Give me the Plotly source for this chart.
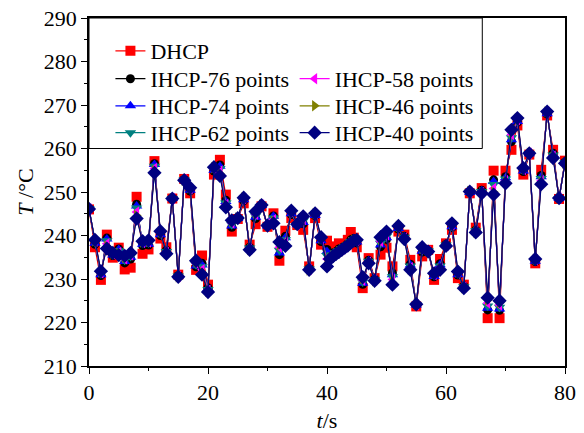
import plotly.graph_objects as go

t = [0, 1, 2, 3, 4, 5, 6, 7, 8, 9, 10, 11, 12, 13, 14, 15, 16, 17, 18, 19, 20,
     21, 22, 23, 24, 25, 26, 27, 28, 29, 30, 31, 32, 33, 34, 35, 36, 37, 38, 39, 40,
     40.5, 41, 41.5, 42, 42.5, 43, 43.5, 44, 44.5, 45,
     46, 47, 48, 49, 50, 51, 52, 53, 54, 55, 56, 57, 58, 59, 60,
     61, 62, 63, 64, 65, 66, 67, 68, 69, 70, 71, 72, 73, 74, 75, 76, 77, 78, 79, 80]

dhcp = [246.0, 237.3, 229.8, 240.2, 234.9, 237.2, 232.2, 232.6, 248.9, 235.8, 236.8,
        257.1, 239.3, 237.3, 248.5, 231.0, 253.0, 249.7, 232.1, 235.4, 228.7,
        254.0, 257.4, 249.4, 240.9, 243.8, 247.4, 237.9, 242.6, 246.7, 242.0,
        245.1, 234.2, 241.1, 244.0, 242.4, 241.3, 232.9, 244.0, 237.9, 238.8,
        237.5, 236.7, 237.0, 238.2, 238.0, 238.0, 239.0, 240.8, 239.5, 237.3,
        227.9, 234.8, 230.2, 235.6, 237.2, 232.9, 240.9, 240.2, 234.4, 223.7,
        235.2, 236.7, 229.8, 234.6, 238.2, 241.3, 230.2, 228.7, 249.7, 241.8,
        250.9, 221.0, 254.9, 221.0, 254.9, 259.7, 265.3, 254.0, 258.6, 233.6,
        255.1, 267.6, 259.7, 248.4, 257.2]

ihcp76 = [246.1, 238.0, 230.8, 239.4, 235.4, 236.9, 233.7, 234.6, 247.2, 237.7, 237.8,
          256.5, 240.0, 236.6, 248.5, 230.8, 252.9, 250.2, 232.8, 233.6, 228.0,
          254.8, 256.2, 248.1, 241.9, 243.9, 248.0, 237.3, 243.9, 246.8, 242.2,
          244.5, 235.6, 239.8, 244.8, 242.5, 242.7, 232.5, 244.5, 238.6, 236.8,
          235.9, 236.0, 236.3, 236.9, 237.2, 237.6, 238.1, 239.0, 239.3, 238.3,
          228.8, 234.3, 230.0, 237.4, 239.1, 231.4, 241.5, 239.8, 233.4, 224.0,
          236.2, 236.5, 230.5, 233.5, 238.0, 241.8, 230.9, 228.4, 249.9, 241.3,
          250.4, 222.9, 252.8, 222.8, 253.5, 261.6, 266.0, 254.7, 258.8, 234.0,
          253.8, 267.9, 258.9, 248.5, 256.9]

ihcp74 = [246.2, 238.2, 231.0, 239.2, 235.5, 236.8, 234.0, 235.0, 246.8, 238.0, 238.0,
          256.3, 240.2, 236.4, 248.5, 230.7, 252.9, 250.4, 233.0, 233.2, 227.8,
          255.0, 255.9, 247.8, 242.2, 243.9, 248.2, 237.2, 244.2, 246.9, 242.2,
          244.4, 236.0, 239.5, 245.0, 242.5, 243.0, 232.4, 244.6, 238.8, 236.3,
          235.6, 235.8, 236.1, 236.6, 237.0, 237.5, 237.9, 238.7, 239.2, 238.5,
          229.0, 234.2, 229.9, 237.8, 239.5, 231.0, 241.6, 239.7, 233.2, 224.0,
          236.4, 236.5, 230.6, 233.3, 237.9, 242.0, 231.0, 228.3, 249.9, 241.2,
          250.3, 223.3, 252.4, 223.1, 253.3, 262.0, 266.2, 254.8, 258.8, 234.1,
          253.5, 268.0, 258.7, 248.5, 256.9]

ihcp62 = [246.2, 238.4, 231.2, 238.8, 235.6, 236.5, 234.3, 235.2, 246.3, 238.2, 238.3,
          255.9, 240.4, 236.3, 248.5, 230.7, 252.8, 250.5, 233.3, 232.8, 227.6,
          255.2, 255.4, 247.5, 242.5, 243.9, 248.3, 237.1, 244.5, 246.9, 242.2,
          244.0, 236.6, 239.0, 245.2, 242.5, 243.4, 232.3, 244.7, 239.0, 235.4,
          235.3, 235.6, 236.0, 236.5, 236.9, 237.4, 237.8, 238.6, 239.1, 238.6,
          229.3, 234.1, 229.8, 238.2, 239.8, 230.5, 241.7, 239.6, 233.0, 224.1,
          236.6, 236.5, 230.8, 233.0, 237.8, 242.2, 231.2, 228.2, 250.0, 241.1,
          250.1, 223.8, 251.7, 223.5, 253.0, 262.5, 266.4, 255.0, 258.8, 234.2,
          253.1, 268.1, 258.5, 248.5, 256.8]

ihcp58 = [246.1, 238.6, 231.4, 238.1, 235.8, 236.1, 234.6, 235.5, 245.4, 238.4, 238.5,
          255.4, 240.6, 236.1, 248.5, 230.6, 252.8, 250.7, 233.6, 232.1, 227.4,
          255.4, 254.8, 247.1, 242.9, 244.0, 248.5, 236.9, 244.9, 247.0, 242.3,
          243.6, 237.3, 238.5, 245.4, 242.6, 243.7, 232.2, 244.9, 239.2, 234.6,
          235.1, 235.5, 235.9, 236.4, 236.8, 237.3, 237.8, 238.5, 239.0, 238.8,
          229.7, 233.9, 229.7, 238.7, 240.2, 229.9, 241.9, 239.4, 232.6, 224.1,
          236.9, 236.4, 231.0, 232.7, 237.7, 242.4, 231.4, 228.1, 250.0, 240.9,
          249.9, 224.5, 250.8, 224.0, 252.6, 263.2, 266.6, 255.2, 258.9, 234.4,
          252.6, 268.3, 258.2, 248.6, 256.7]

ihcp46 = [246.1, 238.8, 231.6, 237.5, 235.9, 235.8, 235.0, 235.8, 244.6, 238.5, 238.7,
          254.8, 240.8, 235.9, 248.5, 230.5, 252.7, 250.9, 233.9, 231.5, 227.2,
          255.6, 254.2, 246.8, 243.2, 244.0, 248.6, 236.8, 245.2, 247.0, 242.3,
          243.2, 237.9, 238.0, 245.6, 242.6, 244.1, 232.1, 245.0, 239.4, 233.8,
          234.8, 235.3, 235.8, 236.3, 236.7, 237.2, 237.7, 238.4, 238.9, 238.9,
          230.1, 233.7, 229.6, 239.2, 240.6, 229.2, 242.1, 239.3, 232.3, 224.2,
          237.1, 236.3, 231.2, 232.3, 237.6, 242.6, 231.6, 228.0, 250.1, 240.8,
          249.8, 225.2, 250.0, 224.6, 252.3, 263.8, 266.8, 255.4, 258.9, 234.5,
          252.1, 268.4, 258.0, 248.6, 256.6]

ihcp40 = [246.1, 239.0, 231.8, 237.0, 236.0, 235.5, 235.3, 236.0, 243.9, 238.7, 238.9,
          254.4, 241.0, 235.8, 248.5, 230.5, 252.7, 251.0, 234.2, 231.0, 227.0,
          255.7, 253.7, 246.5, 243.5, 244.0, 248.7, 236.7, 245.5, 247.0, 242.3,
          242.8, 238.5, 237.6, 245.7, 242.6, 244.4, 232.1, 245.1, 239.6, 232.9,
          234.6, 235.2, 235.7, 236.2, 236.7, 237.2, 237.7, 238.3, 238.8, 239.0,
          230.4, 233.6, 229.6, 239.6, 240.9, 228.7, 242.2, 239.2, 232.1, 224.2,
          237.3, 236.3, 231.3, 232.1, 237.6, 242.8, 231.7, 227.9, 250.1, 240.7,
          249.7, 225.7, 249.4, 225.0, 252.0, 264.3, 267.0, 255.5, 258.9, 234.6,
          251.8, 268.5, 257.8, 248.6, 256.6]

series = [
    ("DHCP", dhcp, "#FF0000", "square", 10),
    ("IHCP-76 points", ihcp76, "#000000", "circle", 9),
    ("IHCP-74 points", ihcp74, "#0000FF", "triangle-up", 10),
    ("IHCP-62 points", ihcp62, "#008080", "triangle-down", 10),
    ("IHCP-58 points", ihcp58, "#FF00FF", "triangle-left", 10),
    ("IHCP-46 points", ihcp46, "#808000", "triangle-right", 10),
    ("IHCP-40 points", ihcp40, "#000080", "diamond", 11),
]

FONT = "Liberation Serif, Times New Roman, serif"
FS = 22

col1, col2 = 0.045, 0.432
rows = [0.905, 0.825, 0.747, 0.670]
slots = [(col1, rows[0]), (col1, rows[1]), (col1, rows[2]), (col1, rows[3]),
         (col2, rows[1]), (col2, rows[2]), (col2, rows[3])]

fig = go.Figure()
legend_layout = {}
for i, (name, vals, col, sym, sz) in enumerate(series):
    key = "legend" if i == 0 else f"legend{i + 1}"
    fig.add_trace(go.Scatter(
        x=t, y=vals, name=name, mode="lines+markers",
        line=dict(color=col, width=1.2),
        marker=dict(symbol=sym, size=sz, color=col, line=dict(width=0)),
        legend=key,
    ))
    lx, ly = slots[i]
    legend_layout[key] = dict(x=lx, y=ly, xanchor="left", yanchor="middle",
                              bgcolor="rgba(0,0,0,0)", borderwidth=0,
                              font=dict(family=FONT, size=FS, color="black"),
                              itemwidth=30)

fig.add_shape(type="rect", xref="x", yref="y", x0=0, x1=66.1, y0=260, y1=290,
              line=dict(color="black", width=1), fillcolor="rgba(0,0,0,0)", layer="below")

axis_common = dict(
    showgrid=False, zeroline=False, showline=True, linecolor="black", linewidth=1.5,
    mirror=True, ticks="outside", ticklen=6, tickwidth=1.2, tickcolor="black",
    tickfont=dict(family=FONT, size=FS, color="black"), automargin=False,
)

fig.update_layout(
    width=584, height=433,
    margin=dict(l=89, r=19, t=18, b=67),
    paper_bgcolor="white", plot_bgcolor="white",
    font=dict(family=FONT, size=FS, color="black"),
    xaxis=dict(range=[0, 80], dtick=20, tick0=0,
               minor=dict(dtick=10, ticks="outside", ticklen=3, tickcolor="black"),
               title=dict(text="<i>t</i>/s", font=dict(family=FONT, size=FS), standoff=12),
               **axis_common),
    yaxis=dict(range=[210, 290], dtick=10, tick0=210,
               minor=dict(dtick=5, ticks="outside", ticklen=3, tickcolor="black"),
               title=dict(text="<i>T</i> /°C", font=dict(family=FONT, size=FS), standoff=4),
               **axis_common),
    showlegend=True,
    **legend_layout,
)

fig.write_html("out.html")
